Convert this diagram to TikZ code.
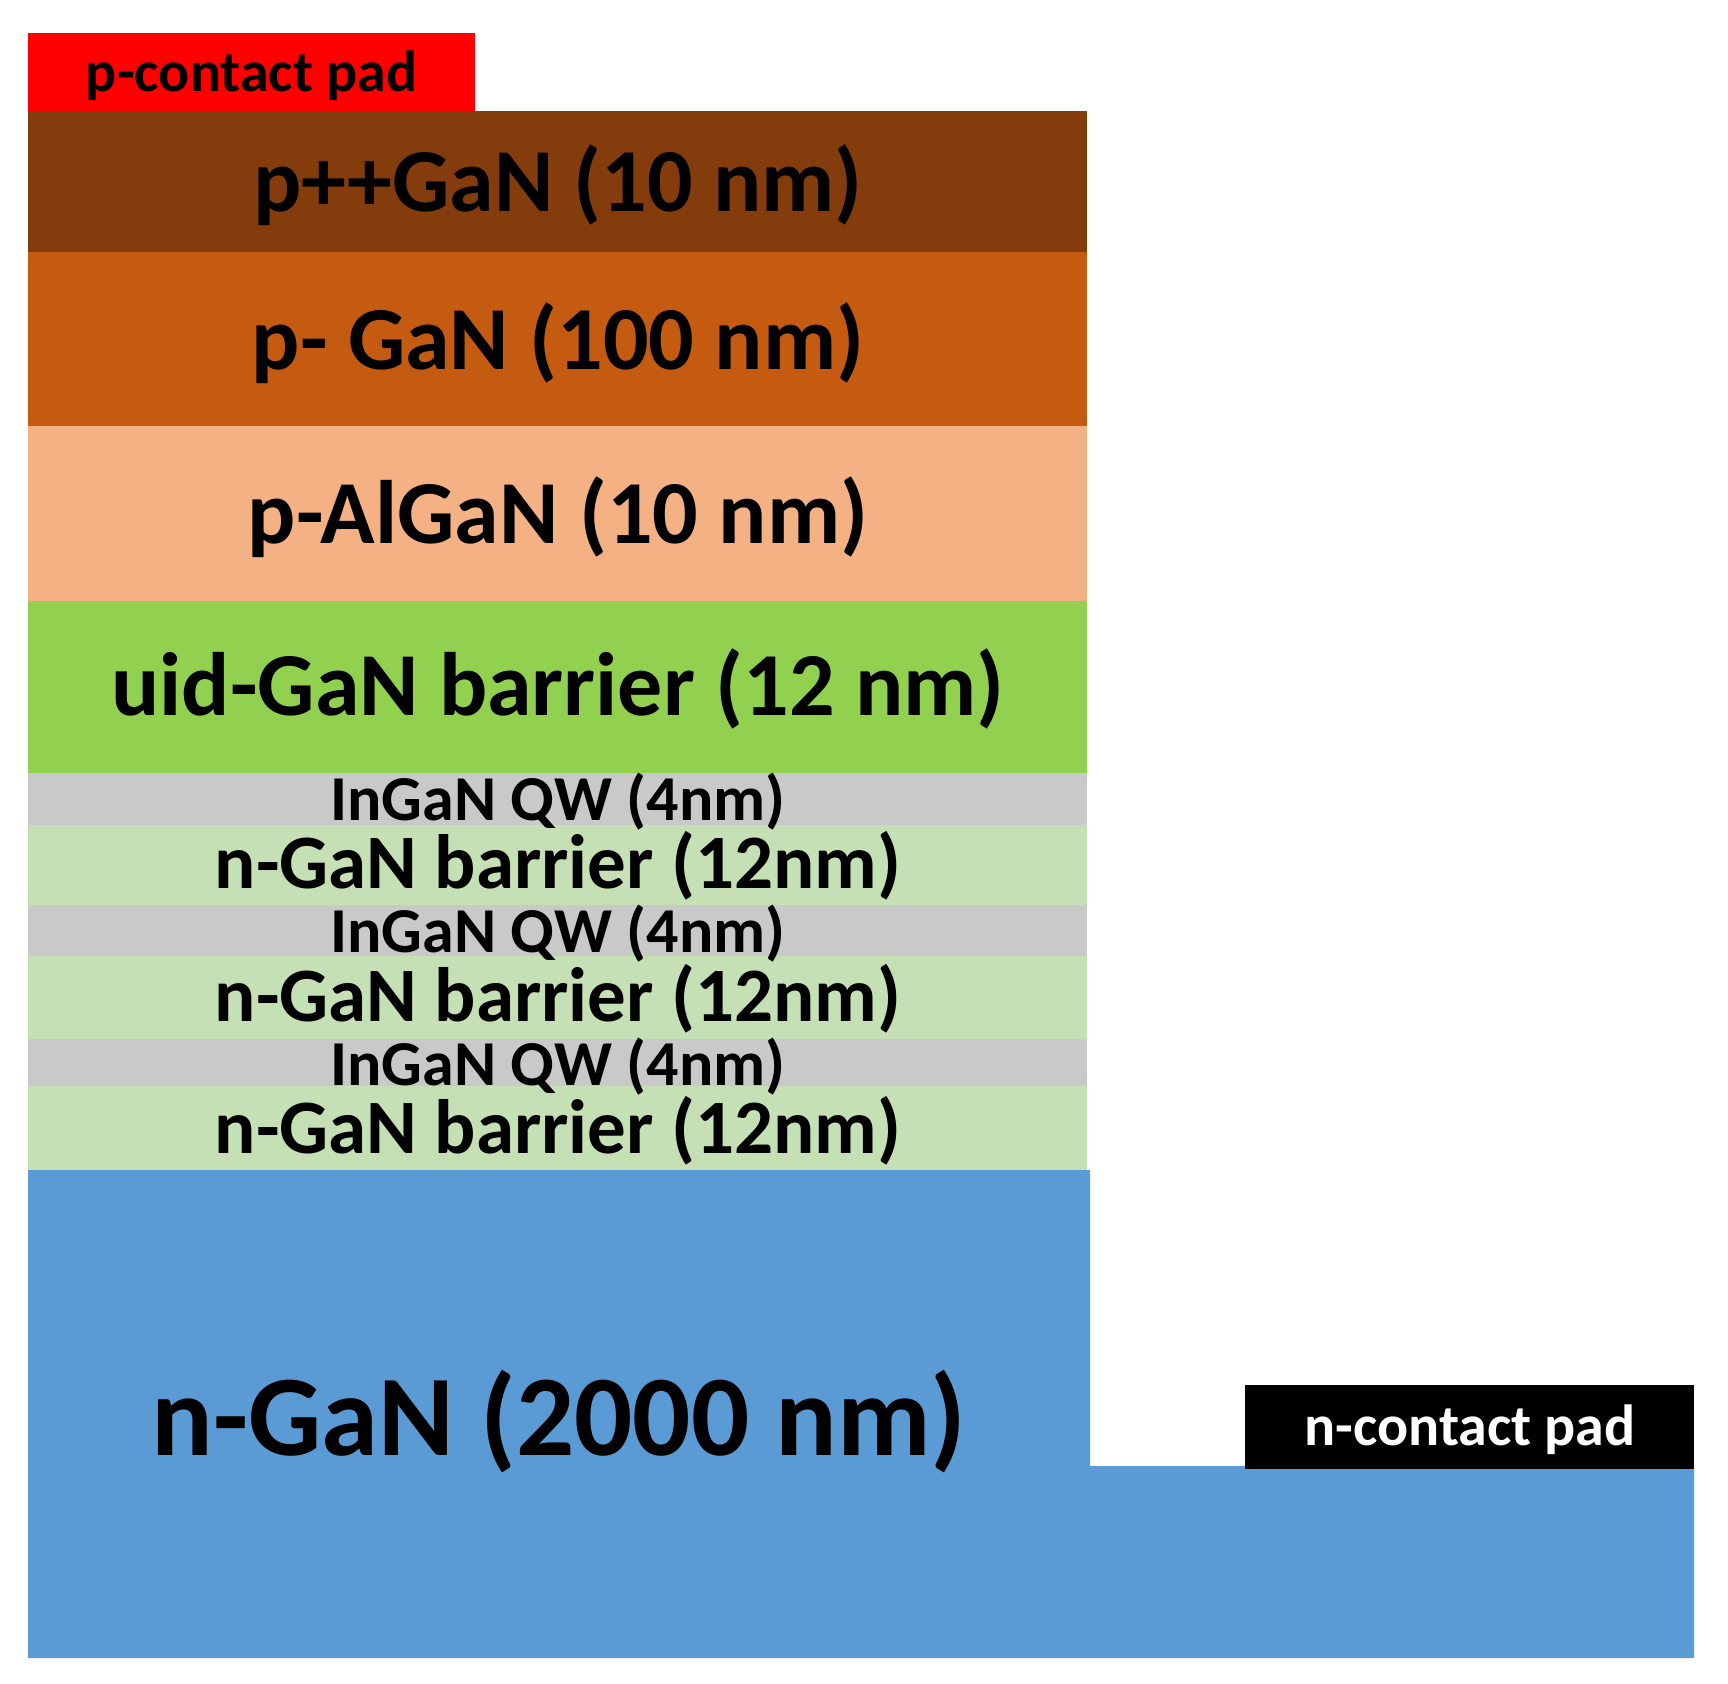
\documentclass[tikz,border=0pt]{standalone}
\usepackage{fontspec}
\setmainfont{Carlito}
\definecolor{cpad}{HTML}{FF0000}
\definecolor{cbrown}{HTML}{843C0C}
\definecolor{corange}{HTML}{C55A11}
\definecolor{cpeach}{HTML}{F4B183}
\definecolor{cgreen}{HTML}{92D050}
\definecolor{cgray}{HTML}{C9C9C9}
\definecolor{clgreen}{HTML}{C5E0B4}
\definecolor{cblue}{HTML}{5B9BD5}
\begin{document}
\begin{tikzpicture}[x=1bp,y=-1bp,
  lbl/.style={inner sep=0pt, outer sep=0pt, text=black, font=\bfseries\fontsize{90bp}{90bp}\selectfont},
  qwlbl/.style={lbl, font=\bfseries\fontsize{64bp}{64bp}\selectfont},
  barlbl/.style={lbl, font=\bfseries\fontsize{77bp}{77bp}\selectfont},
  padlbl/.style={lbl, font=\bfseries\fontsize{58bp}{58bp}\selectfont},
  biglbl/.style={lbl, font=\bfseries\fontsize{115bp}{115bp}\selectfont}]
\useasboundingbox (0,0) rectangle (1728,1684);
\fill[white] (0,0) rectangle (1728,1684);
% fills
\fill[cpad] (28,33) rectangle (475,112);
\fill[cbrown] (28,111) rectangle (1087,252);
\fill[corange] (28,252) rectangle (1087,426);
\fill[cpeach] (28,426) rectangle (1087,601);
\fill[cgreen] (28,601) rectangle (1087,773);
\fill[cgray] (28,773) rectangle (1087,825);
\fill[clgreen] (28,825) rectangle (1087,905);
\fill[cgray] (28,905) rectangle (1087,956);
\fill[clgreen] (28,956) rectangle (1087,1039);
\fill[cgray] (28,1039) rectangle (1087,1086);
\fill[clgreen] (28,1086) rectangle (1087,1170);
\fill[cblue] (28,1170) -- (1090,1170) -- (1090,1466) -- (1694,1466) -- (1694,1658) -- (28,1658) -- cycle;
\fill[black] (1245,1385) rectangle (1694,1469);
% labels
\node[padlbl] (ppad) at (251.5,76) {p-contact pad};
\node[lbl] (ppgan) at (558,185) {p++GaN (10 nm)};
\node[lbl] (pgan) at (558,343) {p- GaN (100 nm)};
\node[lbl] (palgan) at (558,517) {p-AlGaN (10 nm)};
\node[lbl] (uid) at (558,689) {uid-GaN barrier (12 nm)};
\node[qwlbl] (qw1) at (558,802) {InGaN QW (4nm)};
\node[barlbl] (b1) at (558,866) {n-GaN barrier (12nm)};
\node[qwlbl] (qw2) at (558,934) {InGaN QW (4nm)};
\node[barlbl] (b2) at (558,999) {n-GaN barrier (12nm)};
\node[qwlbl] (qw3) at (558,1067) {InGaN QW (4nm)};
\node[barlbl] (b3) at (558,1131) {n-GaN barrier (12nm)};
\node[biglbl] (ngan) at (559,1422) {n-GaN (2000 nm)};
\node[padlbl, text=white] (npad) at (1470,1430) {n-contact pad};
\end{tikzpicture}
\end{document}
